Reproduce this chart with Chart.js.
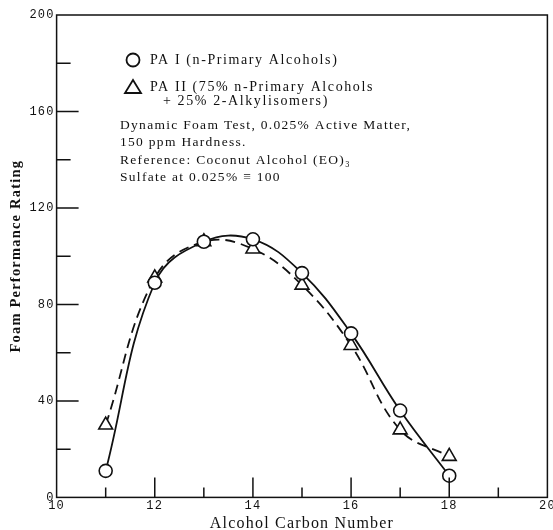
<!DOCTYPE html>
<html lang="en">
<head>
<meta charset="UTF-8">
<title>Foam Performance Rating</title>
<style>
  body { margin: 0; background: #fff; overflow: hidden; }
  canvas { display: block; }
</style>
</head>
<body>
<canvas id="foamChart" width="557" height="530"></canvas>
<script src="https://cdn.jsdelivr.net/npm/chart.js"></script>
<script>
  // carbon numbers and foam ratings
  const carbonNumbers = [11, 12, 13, 14, 15, 16, 17, 18];
  const paOne = [11, 89, 106, 107, 93, 68, 36, 9];
  const paTwo = [30, 91, 106, 103, 88, 63, 28, 17];

  const legendRows = [
    'PA I (n-Primary Alcohols)',
    'PA II (75% n-Primary Alcohols',
    '+ 25% 2-Alkylisomers)'
  ];
  const noteLines = [
    'Dynamic Foam Test, 0.025% Active Matter,',
    '150 ppm Hardness.',
    'Reference: Coconut Alcohol (EO)\u2083',
    'Sulfate at 0.025% \u2261 100'
  ];

  const ink = '#111';
  const serif = '"Liberation Serif", "DejaVu Serif", serif';
  const mono = '"Liberation Mono", "DejaVu Sans Mono", monospace';

  // the old typewritten labels are spaced out a bit
  const spacingPlugin = {
    id: 'spacing',
    beforeUpdate(chart) { chart.ctx.letterSpacing = '1.2px'; },
    beforeDraw(chart) { chart.ctx.letterSpacing = '1.2px'; }
  };

  // box, inward tick marks and the text block inside the plot
  const paperPlugin = {
    id: 'paper',
    afterDraw(chart) {
      const ctx = chart.ctx;
      const a = chart.chartArea;
      const xs = chart.scales.x, ys = chart.scales.y;
      ctx.save();
      ctx.strokeStyle = ink;
      ctx.lineWidth = 1.5;
      ctx.strokeRect(a.left, a.top, a.right - a.left, a.bottom - a.top);

      ctx.beginPath();
      for (let v = 11; v < 20; v++) {
        const px = xs.getPixelForValue(v);
        const len = v % 2 === 0 ? 20 : 10;
        ctx.moveTo(px, a.bottom);
        ctx.lineTo(px, a.bottom - len);
      }
      for (let v = 20; v < 200; v += 20) {
        const py = ys.getPixelForValue(v);
        const len = v % 40 === 0 ? 22 : 14;
        ctx.moveTo(a.left, py);
        ctx.lineTo(a.left + len, py);
      }
      ctx.stroke();

      // legend markers
      ctx.fillStyle = '#fff';
      ctx.lineWidth = 1.8;
      ctx.beginPath();
      ctx.arc(133, 60, 6.5, 0, Math.PI * 2);
      ctx.fill();
      ctx.stroke();
      ctx.beginPath();
      ctx.moveTo(133, 80);
      ctx.lineTo(141, 93);
      ctx.lineTo(125, 93);
      ctx.closePath();
      ctx.fill();
      ctx.stroke();

      ctx.fillStyle = ink;
      ctx.textBaseline = 'middle';
      ctx.font = '14px ' + serif;
      ctx.letterSpacing = '1.6px';
      ctx.fillText(legendRows[0], 150, 60);
      ctx.fillText(legendRows[1], 150, 87);
      ctx.fillText(legendRows[2], 163, 101);
      ctx.font = '13.5px ' + serif;
      ctx.letterSpacing = '1.3px';
      const noteY = [125, 142, 160, 177];
      noteLines.forEach((t, i) => ctx.fillText(t, 120, noteY[i]));
      ctx.restore();
    }
  };

  new Chart(document.getElementById('foamChart'), {
    type: 'line',
    data: {
      datasets: [
        {
          label: 'PA I',
          data: carbonNumbers.map((c, i) => ({ x: c, y: paOne[i] })),
          borderColor: ink,
          borderWidth: 1.8,
          backgroundColor: '#fff',
          pointStyle: 'circle',
          pointRadius: 6.5,
          pointBorderWidth: 1.6,
          pointBorderColor: ink,
          pointBackgroundColor: '#fff',
          tension: 0.4
        },
        {
          label: 'PA II',
          data: carbonNumbers.map((c, i) => ({ x: c, y: paTwo[i] })),
          borderColor: ink,
          borderWidth: 1.8,
          borderDash: [10, 6],
          backgroundColor: '#fff',
          pointStyle: 'triangle',
          pointRadius: 8,
          pointBorderWidth: 1.6,
          pointBorderColor: ink,
          pointBackgroundColor: '#fff',
          tension: 0.4
        }
      ]
    },
    options: {
      responsive: false,
      animation: false,
      layout: { padding: { top: 15, right: 0, left: 3, bottom: -3 } },
      plugins: {
        legend: { display: false },
        tooltip: { enabled: false }
      },
      scales: {
        x: {
          type: 'linear',
          min: 10,
          max: 20,
          grid: { display: false, drawTicks: false },
          border: { display: false },
          ticks: {
            stepSize: 2,
            padding: 1,
            color: ink,
            font: { family: mono, size: 12 }
          },
          title: {
            display: true,
            text: 'Alcohol Carbon Number',
            color: ink,
            padding: { top: 0, bottom: 0 },
            font: { family: serif, size: 16 }
          }
        },
        y: {
          min: 0,
          max: 200,
          grid: { display: false, drawTicks: false },
          border: { display: false },
          ticks: {
            stepSize: 20,
            padding: 2,
            color: ink,
            font: { family: mono, size: 12 },
            callback: v => (v % 40 === 0 ? v : '')
          },
          title: {
            display: true,
            text: 'Foam Performance Rating',
            color: ink,
            padding: { top: 5, bottom: 2 },
            font: { family: serif, size: 14.5, weight: 'bold' }
          }
        }
      }
    },
    plugins: [spacingPlugin, paperPlugin]
  });
</script>
</body>
</html>
